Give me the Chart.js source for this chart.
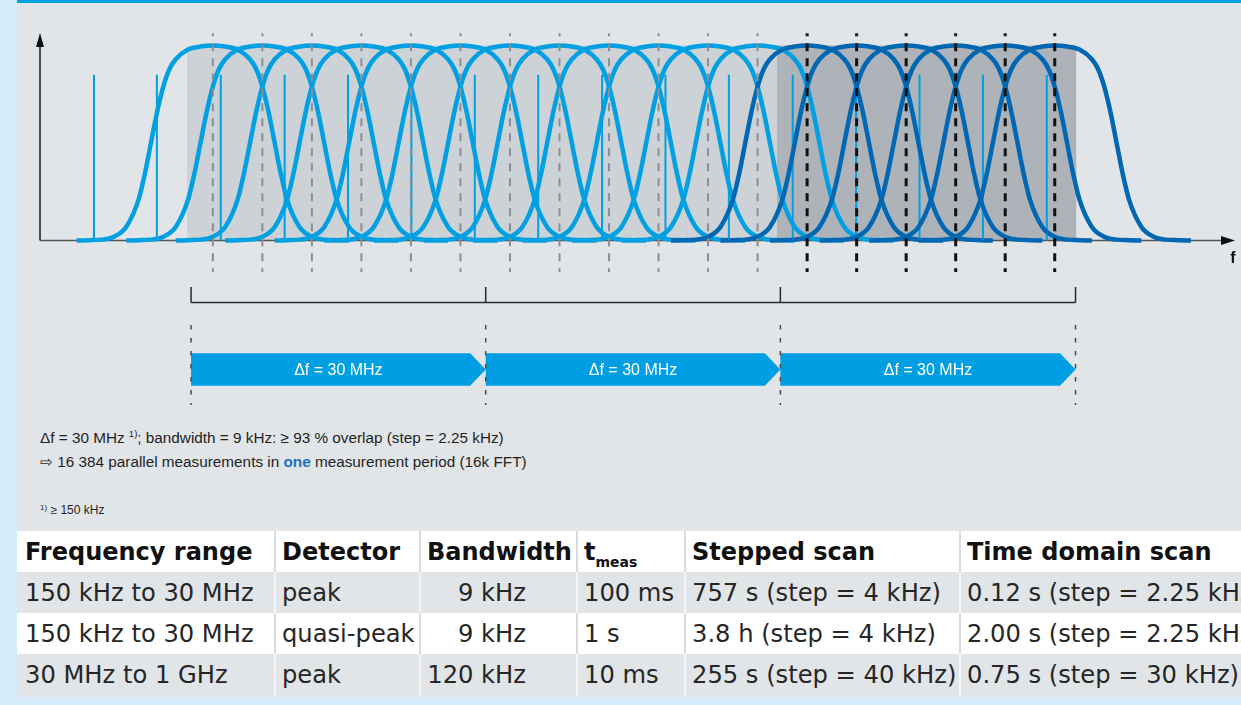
<!DOCTYPE html>
<html>
<head>
<meta charset="utf-8">
<script src="https://cdn.jsdelivr.net/npm/chart.js@4.4.1/dist/chart.umd.min.js"></script>
<style>
  html, body { margin: 0; padding: 0; }
  body { width: 1241px; height: 705px; background: #d4ecfa; position: relative; overflow: hidden; }
  #panel { position: absolute; left: 17px; top: 0; width: 1224px; height: 697px; background: #e1e5e8; border-top: 3px solid #00a0e3; box-sizing: border-box; }
  #spectrum { position: absolute; left: 17px; top: 3px; }
  .note { position: absolute; left: 40px; font-family: 'Liberation Sans', Arial, sans-serif; color: #1f1f1f; white-space: nowrap; }
  #notes { top: 426px; font-size: 15.3px; line-height: 24px; }
  #notes sup { font-size: 9.5px; vertical-align: 6px; line-height: 0; }
  #notes .one { color: #1a72c3; font-weight: bold; }
  #foot { top: 502px; font-size: 12px; line-height: 16px; }
  #foot sup { font-size: 8px; vertical-align: 4px; line-height: 0; }
  #tableWrap { position: absolute; left: 17px; top: 531px; width: 1224px; height: 166px; overflow: hidden; }
  #tbl { border-collapse: collapse; table-layout: fixed; width: 1224px; font-family: 'DejaVu Sans', sans-serif; color: #262626; }
  #tbl td, #tbl th { padding: 0 0 0 6px; white-space: nowrap; overflow: visible; text-align: left; vertical-align: middle; }
  #tbl th { font-weight: bold; font-size: 24px; color: #111; }
  #tbl td { font-size: 24.2px; }
  #tbl tr { height: 41px; }
  #tbl tr:last-child { height: 42px; }
  #tbl tr.white { background: #ffffff; }
  #tbl tr.grey { background: #e1e5e8; }
  #tbl tr.white > * + * { border-left: 2px solid #d8dcdf; }
  #tbl tr.grey > * + * { border-left: 2px solid #f3f5f6; }
  #tbl td.right { text-align: right; padding-right: 50px; }
  #tbl th:first-child, #tbl td:first-child { padding-left: 8px; }
  #tbl th sub { font-size: 14px; vertical-align: -7px; line-height: 0; }
</style>
</head>
<body>
<div id="panel"></div>
<canvas id="spectrum" width="1224" height="420"></canvas>
<div id="notes" class="note">
  <div>Δf = 30 MHz <sup>1)</sup>; bandwidth = 9 kHz: ≥ 93 % overlap (step = 2.25 kHz)</div>
  <div>⇨ 16 384 parallel measurements in <span class="one">one</span> measurement period (16k FFT)</div>
</div>
<div id="foot" class="note"><sup>1)</sup> ≥ 150 kHz</div>
<div id="tableWrap"><table id="tbl"><colgroup>
  <col style="width:258px"><col style="width:145px"><col style="width:157px"><col style="width:108px"><col style="width:275px"><col style="width:281px">
</colgroup><tbody id="tbody"></tbody></table></div>

<script>
// Filter centres, counted in FFT steps (2.25 kHz each)
const binsEarlier = [0, 1, 2, 3, 4, 5, 6, 7, 8, 9, 10, 11];
const binsCurrent = [12, 13, 14, 15, 16, 17];

// Response of one filter: offset from its centre (steps) and relative level
const shapeOffsets = [-2.75, -2.5, -2.25, -2, -1.75, -1.5, -1.375, -1.25, -1.125, -1, -0.875, -0.75, -0.5, -0.25, 0,
                      0.25, 0.5, 0.75, 0.875, 1, 1.125, 1.25, 1.375, 1.5, 1.75, 2, 2.25, 2.5, 2.75];
const shapeLevels  = [0, 0.002, 0.005, 0.02, 0.07, 0.21, 0.34, 0.5, 0.66, 0.79, 0.88, 0.93, 0.98, 0.995, 1,
                      0.995, 0.98, 0.93, 0.88, 0.79, 0.66, 0.5, 0.34, 0.21, 0.07, 0.02, 0.005, 0.002, 0];

// Spectral lines of the signal under test
const signalFreqs = [-2.40, -1.13, 0.16, 1.45, 2.73, 4.01, 5.29, 6.57, 7.86, 9.14, 10.42, 11.71, 12.99, 14.27, 15.55, 16.84];
const signalLevel = 0.85;

// Shaded measurement windows
const windowEarlier = [-0.52, 11.38];
const windowCurrent = [11.38, 17.44];

// Three consecutive 30 MHz segments
const segmentEdges  = [-0.44, 5.51, 11.46, 17.42];
const segmentLabels = ['Δf = 30 MHz', 'Δf = 30 MHz', 'Δf = 30 MHz'];

// Scan-time table
const tableHeads     = ['Frequency range', 'Detector', 'Bandwidth', 't|meas', 'Stepped scan', 'Time domain scan'];
const freqRanges     = ['150 kHz to 30 MHz', '150 kHz to 30 MHz', '30 MHz to 1 GHz'];
const detectors      = ['peak', 'quasi-peak', 'peak'];
const bandwidths     = ['9 kHz', '9 kHz', '120 kHz'];
const measTimes      = ['100 ms', '1 s', '10 ms'];
const steppedScan    = ['757 s (step = 4 kHz)', '3.8 h (step = 4 kHz)', '255 s (step = 40 kHz)'];
const timeDomainScan = ['0.12 s (step = 2.25 kHz)', '2.00 s (step = 2.25 kHz)', '0.75 s (step = 30 kHz)'];

// ---- geometry of the plot ----
const X_MIN = -3.49, X_MAX = 20.64, Y_MAX = 1.0646;
const DASH_TOP = 1.063, DASH_BOTTOM = -0.161;
const BRACKET_Y = -0.318, BRACKET_TICK = -0.238;
const BAR_TOP = -0.578, BAR_BOTTOM = -0.744;
const EDGE_TOP = -0.433, EDGE_BOTTOM = -0.843;

const LIGHT = '#00a0e3', DARK = '#0067b2';

function filterCurve(centre, colour, order) {
  return {
    label: 'filter-' + centre,
    data: shapeOffsets.map((o, i) => ({ x: centre + o, y: shapeLevels[i] })),
    borderColor: colour, borderWidth: 4.5, borderCapStyle: 'butt',
    cubicInterpolationMode: 'monotone', pointRadius: 0, fill: false, clip: false, order
  };
}

function verticals(xs, y0, y1) {
  const pts = [];
  xs.forEach(x => { pts.push({ x, y: y1 }, { x, y: y0 }, { x, y: null }); });
  return pts;
}

const datasets = [
  { label: 'window-earlier', data: windowEarlier.map(x => ({ x, y: 1 })), fill: 'origin',
    backgroundColor: '#cdd2d6', borderColor: 'transparent', borderWidth: 0, pointRadius: 0, tension: 0, order: 11 },
  { label: 'window-current', data: windowCurrent.map(x => ({ x, y: 1 })), fill: 'origin',
    backgroundColor: '#adb3b9', borderColor: 'transparent', borderWidth: 0, pointRadius: 0, tension: 0, order: 10 },
  { label: 'signal', data: verticals(signalFreqs, 0, signalLevel), borderColor: LIGHT, borderWidth: 2,
    pointRadius: 0, tension: 0, spanGaps: false, fill: false, clip: false, order: 6 },
  ...binsEarlier.map(c => filterCurve(c, LIGHT, 5)),
  ...binsCurrent.map(c => filterCurve(c, DARK, 4)),
  { label: 'grid-earlier', data: verticals(binsEarlier, DASH_BOTTOM, DASH_TOP), borderColor: '#8a8f94', borderWidth: 2,
    borderDash: [8, 7], borderDashOffset: 5, pointRadius: 0, tension: 0, spanGaps: false, fill: false, clip: false, order: 1 },
  { label: 'grid-current', data: verticals(binsCurrent, DASH_BOTTOM, DASH_TOP), borderColor: '#111111', borderWidth: 3,
    borderDash: [8, 7], borderDashOffset: 5, pointRadius: 0, tension: 0, spanGaps: false, fill: false, clip: false, order: 0 }
];

function drawAxes(chart) {
  const { ctx, chartArea: a } = chart;
  const y0 = chart.scales.y.getPixelForValue(0);
  ctx.save();
  ctx.lineWidth = 1.5;
  ctx.strokeStyle = '#1a1a1a';
  ctx.beginPath(); ctx.moveTo(a.left, y0); ctx.lineTo(a.left, a.top + 12); ctx.stroke();
  ctx.fillStyle = '#111';
  ctx.beginPath(); ctx.moveTo(a.left, a.top); ctx.lineTo(a.left - 4, a.top + 14); ctx.lineTo(a.left + 4, a.top + 14); ctx.closePath(); ctx.fill();
  ctx.strokeStyle = '#555';
  ctx.beginPath(); ctx.moveTo(a.left, y0); ctx.lineTo(a.right - 12, y0); ctx.stroke();
  ctx.beginPath(); ctx.moveTo(a.right, y0); ctx.lineTo(a.right - 14, y0 - 4.5); ctx.lineTo(a.right - 14, y0 + 4.5); ctx.closePath(); ctx.fill();
  ctx.restore();
}

function drawSegments(chart) {
  const { ctx } = chart;
  const xs = chart.scales.x, ys = chart.scales.y;
  const px = v => xs.getPixelForValue(v), py = v => ys.getPixelForValue(v);
  ctx.save();
  // frequency axis label
  ctx.fillStyle = '#111';
  ctx.font = "bold 16px 'Liberation Sans', Arial, sans-serif";
  ctx.textAlign = 'center'; ctx.textBaseline = 'middle';
  ctx.fillText('f', xs.right - 2, py(0) + 18);

  // bracket over the full span
  ctx.strokeStyle = '#2b2b2b'; ctx.lineWidth = 1.5;
  ctx.beginPath();
  ctx.moveTo(px(segmentEdges[0]), py(BRACKET_Y));
  ctx.lineTo(px(segmentEdges[segmentEdges.length - 1]), py(BRACKET_Y));
  segmentEdges.forEach(e => { ctx.moveTo(px(e), py(BRACKET_Y)); ctx.lineTo(px(e), py(BRACKET_TICK)); });
  ctx.stroke();

  // arrow bars, one per segment
  const tip = 15.5;
  const top = py(BAR_TOP), bot = py(BAR_BOTTOM), mid = (top + bot) / 2;
  for (let i = 0; i < segmentLabels.length; i++) {
    const l = px(segmentEdges[i]), r = px(segmentEdges[i + 1]);
    ctx.fillStyle = '#009fe3';
    ctx.beginPath();
    ctx.moveTo(l, top); ctx.lineTo(r - tip, top); ctx.lineTo(r, mid); ctx.lineTo(r - tip, bot); ctx.lineTo(l, bot);
    ctx.closePath(); ctx.fill();
    ctx.fillStyle = '#ffffff';
    ctx.font = "16px 'Liberation Sans', Arial, sans-serif";
    ctx.fillText(segmentLabels[i], (l + r) / 2, mid + 1);
  }

  // dashed segment boundaries
  ctx.strokeStyle = '#4a4a4a'; ctx.lineWidth = 1.5;
  ctx.setLineDash([4.5, 8.5]);
  segmentEdges.forEach(e => {
    ctx.beginPath(); ctx.moveTo(px(e), py(EDGE_TOP)); ctx.lineTo(px(e), py(EDGE_BOTTOM)); ctx.stroke();
  });
  ctx.restore();
}

const decor = {
  id: 'decor',
  afterDatasetDraw(chart, args) {
    if (chart.data.datasets[args.index].label === 'window-current') drawAxes(chart);
  },
  afterDatasetsDraw(chart) { drawSegments(chart); }
};

new Chart(document.getElementById('spectrum'), {
  type: 'line',
  data: { datasets },
  options: {
    responsive: false, animation: false, events: [],
    layout: { padding: { left: 23, right: 6, top: 30, bottom: 182.4 } },
    scales: {
      x: { type: 'linear', min: X_MIN, max: X_MAX, display: false },
      y: { type: 'linear', min: 0, max: Y_MAX, display: false }
    },
    plugins: { legend: { display: false }, tooltip: { enabled: false } },
    elements: { point: { radius: 0 } }
  },
  plugins: [decor]
});

// ---- table ----
const tbody = document.getElementById('tbody');
const headRow = document.createElement('tr');
headRow.className = 'white';
tableHeads.forEach(h => {
  const th = document.createElement('th');
  const parts = h.split('|');
  th.textContent = parts[0];
  if (parts[1]) { const s = document.createElement('sub'); s.textContent = parts[1]; th.appendChild(s); }
  headRow.appendChild(th);
});
tbody.appendChild(headRow);
freqRanges.forEach((fr, i) => {
  const tr = document.createElement('tr');
  tr.className = i % 2 === 0 ? 'grey' : 'white';
  [fr, detectors[i], bandwidths[i], measTimes[i], steppedScan[i], timeDomainScan[i]].forEach((v, j) => {
    const td = document.createElement('td');
    td.textContent = v;
    if (j === 2) td.className = 'right';
    tr.appendChild(td);
  });
  tbody.appendChild(tr);
});
</script>
</body>
</html>
